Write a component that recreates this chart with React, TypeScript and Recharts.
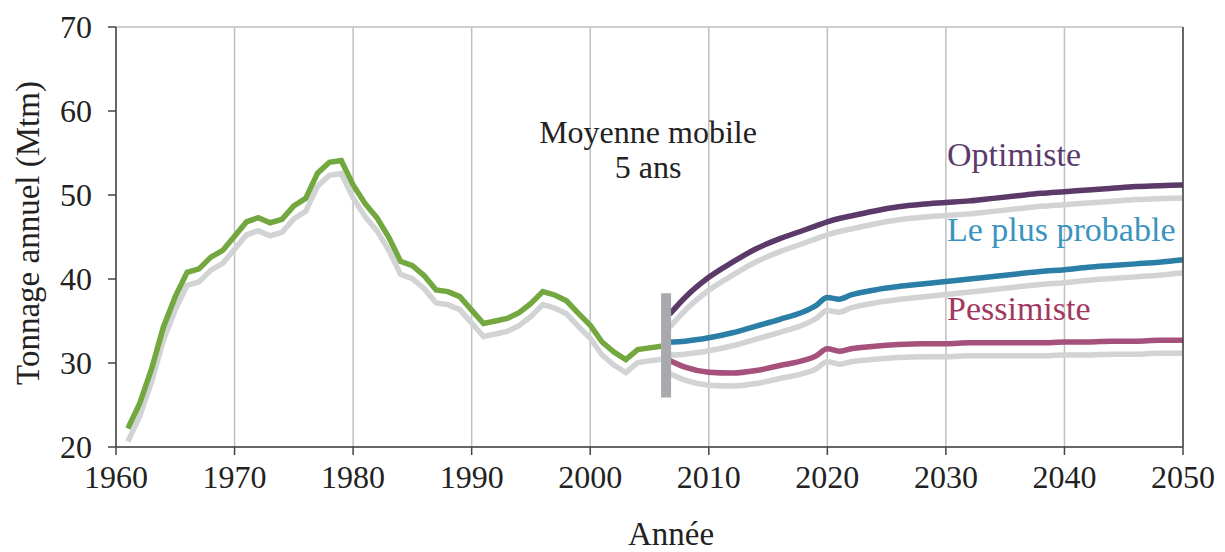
import React from "react";
import {
  LineChart,
  Line,
  XAxis,
  YAxis,
  CartesianGrid,
  ReferenceLine,
} from "recharts";

/* ===== Data ===== */
const histYears = [
  1961, 1962, 1963, 1964, 1965, 1966, 1967, 1968, 1969, 1970, 1971, 1972,
  1973, 1974, 1975, 1976, 1977, 1978, 1979, 1980, 1981, 1982, 1983, 1984,
  1985, 1986, 1987, 1988, 1989, 1990, 1991, 1992, 1993, 1994, 1995, 1996,
  1997, 1998, 1999, 2000, 2001, 2002, 2003, 2004, 2005, 2006,
];
const histTonnage = [
  22.2, 25.2, 29.3, 34.3, 37.9, 40.8, 41.2, 42.6, 43.4, 45.1, 46.8, 47.3,
  46.7, 47.1, 48.7, 49.6, 52.6, 53.9, 54.1, 51.2, 49.0, 47.3, 45.0, 42.1,
  41.6, 40.4, 38.7, 38.5, 37.9, 36.3, 34.7, 35.0, 35.3, 36.0, 37.1, 38.5,
  38.1, 37.4, 35.9, 34.5, 32.5, 31.3, 30.4, 31.6, 31.8, 32.0,
];

const projYears = [
  2006.7, 2008, 2010, 2012, 2014, 2016, 2018, 2019, 2020, 2021, 2022, 2024,
  2026, 2028, 2030, 2032, 2034, 2036, 2038, 2040, 2042, 2044, 2046, 2048, 2050,
];
const optimiste = [
  35.8, 37.8, 40.2, 42.0, 43.6, 44.8, 45.8, 46.3, 46.8, 47.2, 47.5, 48.1,
  48.6, 48.9, 49.1, 49.3, 49.6, 49.9, 50.2, 50.4, 50.6, 50.8, 51.0, 51.1, 51.2,
];
const probable = [
  32.5, 32.6, 33.0, 33.6, 34.4, 35.2, 36.1, 36.8, 37.8, 37.6, 38.1, 38.7,
  39.1, 39.4, 39.7, 40.0, 40.3, 40.6, 40.9, 41.1, 41.4, 41.6, 41.8, 42.0, 42.3,
];
const pessimiste = [
  30.3, 29.5, 28.9, 28.8, 29.1, 29.7, 30.3, 30.8, 31.7, 31.4, 31.7, 32.0,
  32.2, 32.3, 32.3, 32.4, 32.4, 32.4, 32.4, 32.5, 32.5, 32.6, 32.6, 32.7, 32.7,
];

const xTicks = [1960, 1970, 1980, 1990, 2000, 2010, 2020, 2030, 2040, 2050];
const yTicks = [20, 30, 40, 50, 60, 70];

// break between observed and projected
const cutYear = 2006.4;
const cutLow = 25.9;
const cutHigh = 38.3;

const histData = histYears.map((x, i) => ({ x, v: histTonnage[i] }));
const optData = projYears.map((x, i) => ({ x, v: optimiste[i] }));
const probData = projYears.map((x, i) => ({ x, v: probable[i] }));
const pessData = projYears.map((x, i) => ({ x, v: pessimiste[i] }));

const FONT =
  "'Liberation Serif', 'Times New Roman', Times, Tinos, 'Noto Serif', 'DejaVu Serif', FreeSerif, serif";
const SHADOW = "#d2d3d5";

export default function App() {
  const series = [
    { data: histData, color: "#73a73f", type: "linear" as const },
    { data: optData, color: "#5b3a69", type: "monotone" as const },
    { data: probData, color: "#2b7ea5", type: "monotone" as const },
    { data: pessData, color: "#a5517c", type: "monotone" as const },
  ];

  return (
    <div style={{ position: "relative", width: 1225, height: 552, fontFamily: FONT }}>
      <style>{`body{margin:0;} .shadow-line{transform:translate(0px,13px);} svg text{font-family:${FONT};}`}</style>
      <LineChart
        width={1225}
        height={552}
        margin={{ top: 27, right: 32, bottom: 45, left: 0 }}
      >
        <CartesianGrid stroke="#bfbfbf" strokeWidth={1.5} />
        <XAxis
          dataKey="x"
          type="number"
          domain={[1960, 2050]}
          ticks={xTicks}
          allowDuplicatedCategory={false}
          height={60}
          tickSize={8}
          tickMargin={10}
          stroke="#444"
          strokeWidth={1.5}
          tick={{ fill: "#222", fontSize: 32 }}
        />
        <YAxis
          yAxisId="l"
          type="number"
          domain={[20, 70]}
          ticks={yTicks}
          width={116}
          tickSize={8}
          tickMargin={16}
          stroke="#444"
          strokeWidth={1.5}
          tick={{ fill: "#222", fontSize: 32 }}
        />
        <YAxis
          yAxisId="r"
          orientation="right"
          type="number"
          domain={[20, 70]}
          ticks={yTicks}
          width={10}
          tickSize={8}
          stroke="#444"
          strokeWidth={1.5}
          tick={() => <g />}
        />

        {/* ===== Grey drop shadows ===== */}
        {series.map((s, i) => (
          <Line
            key={"sh" + i}
            yAxisId="l"
            data={s.data}
            dataKey="v"
            type={s.type}
            stroke={SHADOW}
            strokeWidth={5.5}
            dot={false}
            activeDot={false}
            className="shadow-line"
            isAnimationActive={false}
          />
        ))}

        {/* ===== Coloured series ===== */}
        {series.map((s, i) => (
          <Line
            key={"ln" + i}
            yAxisId="l"
            data={s.data}
            dataKey="v"
            type={s.type}
            stroke={s.color}
            strokeWidth={5.5}
            dot={false}
            activeDot={false}
            isAnimationActive={false}
          />
        ))}

        <ReferenceLine
          yAxisId="l"
          segment={[
            { x: cutYear, y: cutLow },
            { x: cutYear, y: cutHigh },
          ]}
          stroke="#a8a9ac"
          strokeWidth={10}
        />
      </LineChart>

      {/* ===== Annotations ===== */}
      <svg
        width={1225}
        height={552}
        style={{ position: "absolute", left: 0, top: 0, pointerEvents: "none" }}
      >
        <text
          transform="translate(39,233) rotate(-90)"
          textAnchor="middle"
          fontSize={33}
          fill="#222"
        >
          Tonnage annuel (Mtm)
        </text>
        <text x={671} y={545} textAnchor="middle" fontSize={33} fill="#222">
          Année
        </text>
        <text x={648} y={143} textAnchor="middle" fontSize={32} fill="#222">
          Moyenne mobile
        </text>
        <text x={648} y={178} textAnchor="middle" fontSize={32} fill="#222">
          5 ans
        </text>
        <text x={947} y={166} fontSize={34} fill="#5b3b6b">
          Optimiste
        </text>
        <text x={947} y={241} fontSize={34} fill="#3a94bf">
          Le plus probable
        </text>
        <text x={947} y={320} fontSize={34} fill="#a3385f">
          Pessimiste
        </text>
      </svg>
    </div>
  );
}
